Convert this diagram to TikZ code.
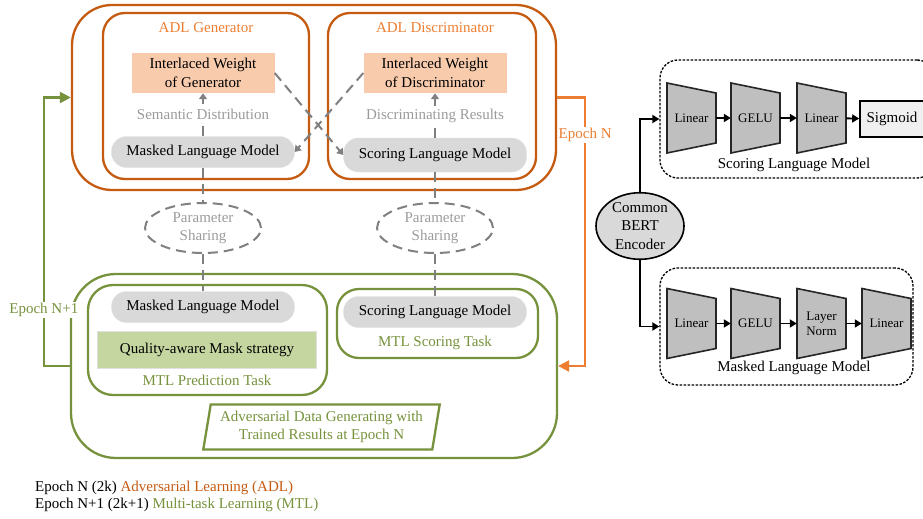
\documentclass[tikz,border=0pt]{standalone}
\usepackage{fontspec}
\setmainfont{Liberation Serif}
\usepackage{tikz}
\usetikzlibrary{arrows.meta,shapes.geometric,positioning}

\definecolor{adldark}{RGB}{197,90,17}
\definecolor{adllight}{RGB}{237,125,49}
\definecolor{adlfill}{RGB}{248,203,173}
\definecolor{mtlgreen}{RGB}{118,146,60}
\definecolor{mtlfill}{RGB}{197,214,160}
\definecolor{pillgray}{RGB}{217,217,217}
\definecolor{linegray}{RGB}{128,128,128}
\definecolor{textgray}{RGB}{155,155,155}
\definecolor{trapgray}{RGB}{191,191,191}

\tikzset{
  every node/.style={font=\fontsize{15}{18.5}\selectfont},
  outerbox/.style={draw, line width=2.3pt, rounded corners=40pt, inner sep=0pt},
  innerbox/.style={draw, line width=2.3pt, rounded corners=22pt, inner sep=0pt},
  weightbox/.style={fill=adlfill, minimum width=143pt, minimum height=40pt, align=center, inner sep=0pt},
  pill/.style={fill=pillgray, draw=black!12, rounded corners=15pt, minimum width=183pt, minimum height=31pt, inner sep=0pt},
  share/.style={ellipse, draw=linegray, line width=2pt, dash pattern=on 10pt off 6pt, text=textgray, align=center, minimum width=116pt, minimum height=50pt, inner sep=0pt},
  gdash/.style={draw=linegray, line width=2pt, dash pattern=on 10pt off 6pt},
  gtip/.style={-{Triangle[length=6pt,width=8pt]}},
  gtext/.style={fill=white, text=textgray, inner sep=1pt},
  epoch/.style={line width=2.3pt, -{Triangle[length=11pt,width=11pt]}},
  dotbox/.style={draw, line width=1.3pt, dash pattern=on 2.5pt off 1.5pt, rounded corners=18pt},
  layertext/.style={font=\fontsize{13}{15}\selectfont, minimum width=49pt, minimum height=70pt, inner sep=0pt, align=center},
  blk/.style={line width=1.8pt, -{Triangle[length=7pt,width=8pt]}}
}

% trapezoid layer: name, x, y, text
\newcommand{\layernode}[4]{%
  \filldraw[fill=trapgray, draw=black!85, line width=1.6pt]
    (#2-24.5,#3-35) -- (#2+24.5,#3-25) -- (#2+24.5,#3+25) -- (#2-24.5,#3+35) -- cycle;
  \node[layertext] (#1) at (#2,#3) {#4};}

\begin{document}
\begin{tikzpicture}[x=1pt,y=-1pt]
  \useasboundingbox (0,0) rectangle (923,519);
  \clip (0,0) rectangle (923,519);

  % adversarial learning part
  \node[outerbox, draw=adldark, minimum width=484pt, minimum height=185pt] (adl) at (314,97.5) {};
  \node[innerbox, draw=adldark, minimum width=206pt, minimum height=166pt] (gen) at (206,96) {};
  \node[innerbox, draw=adldark, minimum width=208pt, minimum height=166pt] (dis) at (432,96) {};
  \node[text=adllight] (gentitle) at (206,28) {ADL Generator};
  \node[text=adllight] (distitle) at (435,28) {ADL Discriminator};
  \node[weightbox] (gweight) at (203,73) {Interlaced Weight\\of Generator};
  \node[weightbox] (dweight) at (435,73) {Interlaced Weight\\of Discriminator};
  \node[pill] (gmlm) at (203,152) {Masked Language Model};
  \node[pill, minimum height=34pt] (dslm) at (435,155) {Scoring Language Model};
  \draw[gdash, gtip] (gmlm) -- node[gtext] {Semantic Distribution} (gweight);
  \draw[gdash, gtip] (dslm) -- node[gtext] {Discriminating Results} (dweight);
  \draw[gdash, gtip] (gweight.east) -- (dslm.west);
  \draw[gdash, gtip] (dweight.west) -- (gmlm.east);

  % parameter sharing
  \node[share] (lshare) at (203,228) {Parameter\\Sharing};
  \node[share] (rshare) at (435,228) {Parameter\\Sharing};

  % multi-task learning part
  \node[outerbox, draw=mtlgreen, rounded corners=45pt, minimum width=486pt, minimum height=184pt] (mtl) at (314,366) {};
  \node[innerbox, draw=mtlgreen, rounded corners=25pt, minimum width=239pt, minimum height=110pt] (mpred) at (207.5,340) {};
  \node[innerbox, draw=mtlgreen, minimum width=201pt, minimum height=69pt] (mscore) at (437.5,323.5) {};
  \node[pill] (mmlm) at (203,307) {Masked Language Model};
  \node[fill=mtlfill, draw=black!12, minimum width=219pt, minimum height=37pt, inner sep=0pt] (qmask) at (207,350) {Quality-aware Mask strategy};
  \node[text=mtlgreen] (predtitle) at (207,380) {MTL Prediction Task};
  \node[pill] (mslm) at (435,312) {Scoring Language Model};
  \node[text=mtlgreen] (scoretitle) at (435,343) {MTL Scoring Task};
  \node[trapezium, trapezium left angle=78, trapezium right angle=102, trapezium stretches=true,
    draw=mtlgreen, line width=2.3pt, text=mtlgreen, align=center, inner sep=0pt,
    minimum width=237pt, minimum height=45pt] (advdata) at (321.5,427)
    {Adversarial Data Generating with\\Trained Results at Epoch N};

  \draw[gdash] (gmlm) -- (lshare);
  \draw[gdash] (lshare) -- (mmlm);
  \draw[gdash] (dslm) -- (rshare);
  \draw[gdash] (rshare) -- (mslm);

  % epoch switching
  \draw[epoch, adllight] (adl.east) -- ++(28,0) |- node[pos=0.07, fill=white, inner sep=1pt] {Epoch N} (mtl.east);
  \draw[epoch, mtlgreen] (mtl.west) -- ++(-26,0) |- node[pos=0.104, fill=white, inner sep=1pt] {Epoch N+1} (adl.west);

  % legend
  \node[anchor=west, inner sep=0pt] (leg1) at (35,488) {Epoch N (2k) \textcolor{adldark}{Adversarial Learning (ADL)}};
  \node[anchor=west, inner sep=0pt] (leg2) at (35,505) {Epoch N+1 (2k+1) \textcolor{mtlgreen}{Multi-task Learning (MTL)}};

  % model heads
  \node[ellipse, draw, line width=1.6pt, fill=pillgray, align=center, inner sep=0pt,
    minimum width=88pt, minimum height=63pt] (bert) at (640,226) {Common\\BERT\\Encoder};
  \node[dotbox, minimum width=275pt, minimum height=118pt] (sbox) at (797.5,119) {};
  \node[dotbox, minimum width=253pt, minimum height=117pt] (mbox) at (786.5,326.5) {};
  \node (scap) at (794,165) {Scoring Language Model};
  \node (mcap) at (794,368) {Masked Language Model};

  \layernode{sl1}{691.5}{118}{Linear}
  \layernode{sg}{755.5}{118}{GELU}
  \layernode{sl2}{821.5}{118}{Linear}
  \node[draw, line width=1.6pt, fill=black!6, minimum width=64pt, minimum height=36pt, inner sep=0pt] (sig) at (892,119) {Sigmoid};
  \layernode{ml1}{691.5}{323.5}{Linear}
  \layernode{mg}{755.5}{323.5}{GELU}
  \layernode{mln}{821.5}{323.5}{Layer\\Norm}
  \layernode{ml2}{886.5}{323.5}{Linear}

  \draw[blk] (sl1) -- (sg);
  \draw[blk] (sg) -- (sl2);
  \draw[blk] (sl2) -- (sig);
  \draw[blk] (ml1) -- (mg);
  \draw[blk] (mg) -- (mln);
  \draw[blk] (mln) -- (ml2);
  \draw[blk] (bert.north) |- (sbox.west);
  \draw[blk] (bert.south) |- (mbox.west);
\end{tikzpicture}
\end{document}
